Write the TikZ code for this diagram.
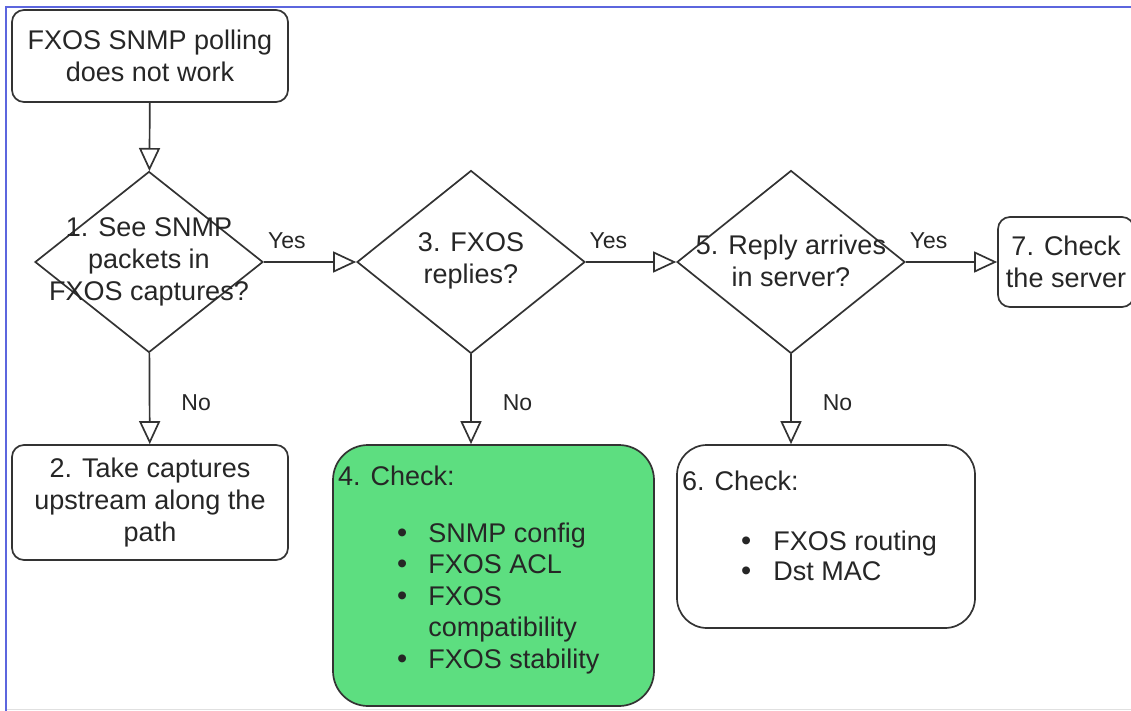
\documentclass[tikz,border=0pt]{standalone}
\usepackage{fontspec}
\setmainfont{Liberation Sans}
\usetikzlibrary{shapes.geometric,arrows.meta}
\definecolor{checkgreen}{RGB}{93,222,128}
\definecolor{frameblue}{RGB}{92,102,222}
\newcommand{\mylinegray}{black!80}
\newcommand{\mydot}{\smash{\fontsize{29}{0}\selectfont\textbullet}}

\begin{document}
\begin{tikzpicture}[x = 1pt, y = -1pt,
  stepbox/.style = {draw = \mylinegray, line width = 1.7pt, rounded corners = 12pt, inner sep = 0pt},
  decision/.style = {diamond, draw = \mylinegray, line width = 1.7pt, inner sep = 0pt},
  flowtext/.style = {font = \fontsize{27}{32}\selectfont, text = black!85, align = center, inner sep = 0pt},
  answer/.style = {font = \fontsize{23}{27}\selectfont, text = black!85, inner sep = 0pt},
  flow/.style = {draw = \mylinegray, line width = 1.7pt, -{Triangle[open, length = 23pt, width = 21pt]}}
]
\useasboundingbox (0,0) rectangle (1131,711);
% frame
\draw[black!12, line width = 1pt] (6,709) -- (1131,709);
\draw[frameblue, line width = 2pt] (6,711) -- (6,7) -- (1131,7);

% top row
\node[stepbox, flowtext, minimum width = 276pt, minimum height = 92pt] (start) at (150,56) {FXOS SNMP polling\\does not work};
\node[decision, minimum width = 228pt, minimum height = 181pt] (d1) at (149,262) {};
\node[flowtext] (d1text) at (149,262) {1. See SNMP\\packets in\\FXOS captures?};
\node[decision, minimum width = 228pt, minimum height = 183pt] (d3) at (471,262) {};
\node[flowtext] (d3text) at (471,261) {3. FXOS\\replies?};
\node[decision, minimum width = 228pt, minimum height = 183pt] (d5) at (791,262) {};
\node[flowtext] (d5text) at (791,261) {5. Reply arrives\\in server?};
\node[stepbox, flowtext, minimum width = 136pt, minimum height = 90pt] (box7) at (1066,262) {7. Check\\the server};

% bottom row
\node[stepbox, flowtext, minimum width = 276pt, minimum height = 115pt] (box2) at (150,502.5) {2. Take captures\\upstream along the\\path};
\node[stepbox, fill = checkgreen, rounded corners = 35pt, minimum width = 321pt, minimum height = 261pt] (box4) at (493.5,575.5) {};
\node[flowtext, anchor = base west] (box4head) at (338,485) {4. Check:};
\node[flowtext, anchor = base west, font = \fontsize{27}{31.5}\selectfont] (box4list) at (397,542)
  {\begin{tabular}[t]{@{}l@{\hspace{21pt}}l@{}}
   \mydot & SNMP config\\
   \mydot & FXOS ACL\\
   \mydot & FXOS\\
          & compatibility\\
   \mydot & FXOS stability
   \end{tabular}};
\node[stepbox, rounded corners = 30pt, minimum width = 298pt, minimum height = 183pt] (box6) at (826,536.5) {};
\node[flowtext, anchor = base west] (box6head) at (682,490) {6. Check:};
\node[flowtext, anchor = base west, font = \fontsize{27}{30.5}\selectfont] (box6list) at (741,550)
  {\begin{tabular}[t]{@{}l@{\hspace{22pt}}l@{}}
   \mydot & FXOS routing\\
   \mydot & Dst MAC
   \end{tabular}};

% connectors
\draw[flow] (start) -- (d1);
\draw[flow] (d1) -- node[answer, pos = .25, above = 12pt] (yes1) {Yes} (d3);
\draw[flow] (d3) -- node[answer, pos = .25, above = 12pt] (yes3) {Yes} (d5);
\draw[flow] (d5) -- node[answer, pos = .25, above = 12pt] (yes5) {Yes} (box7);
\draw[flow] (d1) -- node[answer, pos = .54, right = 31pt] (no1) {No} (box2);
\draw[flow] (d3.south) -- node[answer, pos = .54, right = 31pt] (no3) {No} (d3.south |- box4.north);
\draw[flow] (d5.south) -- node[answer, pos = .54, right = 31pt] (no5) {No} (d5.south |- box6.north);
\end{tikzpicture}
\end{document}
